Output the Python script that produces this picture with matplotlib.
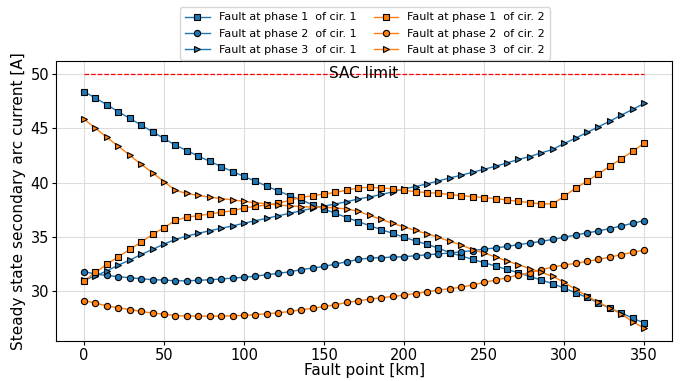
import numpy as np
import matplotlib
matplotlib.use("Agg")
import matplotlib.pyplot as plt

# fault point positions along the line [km]
fault_km = np.linspace(0, 350, 50)

# steady state secondary arc current [A], circuit 1
ph1_cir1 = [48.36, 47.76, 47.15, 46.50, 45.90, 45.27, 44.66, 44.05, 43.43, 42.94,
            42.42, 41.96, 41.47, 41.01, 40.56, 40.12, 39.66, 39.23, 38.80, 38.40,
            37.97, 37.57, 37.17, 36.78, 36.41, 36.04, 35.68, 35.34, 34.97, 34.64,
            34.33, 33.98, 33.56, 33.26, 32.95, 32.64, 32.34, 32.02, 31.72, 31.38,
            31.05, 30.71, 30.31, 29.88, 29.45, 28.96, 28.45, 28.04, 27.55, 27.09]
ph2_cir1 = [31.82, 31.60, 31.47, 31.36, 31.26, 31.17, 31.08, 31.05, 30.98, 30.98,
            31.02, 31.08, 31.14, 31.23, 31.30, 31.41, 31.54, 31.66, 31.81, 32.00,
            32.15, 32.30, 32.52, 32.73, 32.94, 33.07, 33.10, 33.16, 33.19, 33.28,
            33.37, 33.45, 33.53, 33.65, 33.74, 33.90, 33.99, 34.14, 34.30, 34.45,
            34.60, 34.78, 34.97, 35.19, 35.37, 35.56, 35.77, 36.02, 36.26, 36.50]
ph3_cir1 = [31.03, 31.43, 31.89, 32.42, 32.88, 33.40, 33.86, 34.36, 34.78, 35.09,
            35.34, 35.58, 35.80, 36.02, 36.27, 36.50, 36.72, 36.96, 37.18, 37.41,
            37.64, 37.84, 38.04, 38.25, 38.50, 38.68, 38.91, 39.14, 39.42, 39.63,
            39.88, 40.15, 40.43, 40.67, 40.95, 41.22, 41.50, 41.81, 42.12, 42.39,
            42.73, 43.04, 43.59, 44.08, 44.60, 45.12, 45.64, 46.19, 46.72, 47.27]

# circuit 2
ph1_cir2 = [30.98, 31.75, 32.49, 33.19, 33.86, 34.54, 35.24, 35.86, 36.53, 36.83,
            36.96, 37.12, 37.26, 37.42, 37.67, 37.82, 37.95, 38.11, 38.37, 38.63,
            38.80, 38.94, 39.10, 39.30, 39.51, 39.57, 39.51, 39.42, 39.29, 39.17,
            39.08, 39.02, 38.90, 38.80, 38.71, 38.62, 38.53, 38.40, 38.28, 38.16,
            38.04, 38.04, 38.74, 39.48, 40.12, 40.80, 41.50, 42.18, 42.88, 43.59]
ph2_cir2 = [29.17, 28.93, 28.68, 28.50, 28.34, 28.16, 28.01, 27.92, 27.79, 27.74,
            27.74, 27.74, 27.74, 27.77, 27.81, 27.87, 27.95, 28.04, 28.16, 28.32,
            28.44, 28.62, 28.78, 28.99, 29.14, 29.30, 29.42, 29.54, 29.67, 29.81,
            29.97, 30.14, 30.25, 30.40, 30.59, 30.83, 31.05, 31.26, 31.51, 31.72,
            32.00, 32.24, 32.43, 32.58, 32.76, 32.94, 33.16, 33.37, 33.59, 33.81]
ph3_cir2 = [45.82, 45.00, 44.14, 43.34, 42.51, 41.68, 40.89, 40.09, 39.28, 39.00,
            38.82, 38.66, 38.53, 38.41, 38.27, 38.15, 38.04, 37.95, 37.86, 37.79,
            37.76, 37.73, 37.67, 37.58, 37.36, 36.98, 36.62, 36.26, 35.92, 35.60,
            35.30, 34.97, 34.60, 34.27, 33.84, 33.54, 33.17, 32.80, 32.46, 32.10,
            31.76, 31.39, 30.84, 30.20, 29.59, 29.00, 28.49, 27.93, 27.23, 26.62]

sac_limit = 50

series = [
    (ph1_cir1, "s", "tab:blue", "Fault at phase 1  of cir. 1"),
    (ph2_cir1, "o", "tab:blue", "Fault at phase 2  of cir. 1"),
    (ph3_cir1, ">", "tab:blue", "Fault at phase 3  of cir. 1"),
    (ph1_cir2, "s", "tab:orange", "Fault at phase 1  of cir. 2"),
    (ph2_cir2, "o", "tab:orange", "Fault at phase 2  of cir. 2"),
    (ph3_cir2, ">", "tab:orange", "Fault at phase 3  of cir. 2"),
]

fig = plt.figure(figsize=(6.8, 3.81), dpi=100)
ax = fig.add_axes([0.0824, 0.105, 0.906, 0.735])

for vals, mk, col, lab in series:
    ax.plot(fault_km, vals, marker=mk, color=col, markersize=4.5, lw=1,
            markeredgecolor="black", markeredgewidth=0.8, label=lab)

ax.plot([fault_km[0], fault_km[-1]], [sac_limit, sac_limit], "r--", lw=0.9)
ax.text(175, sac_limit, "SAC limit", ha="center", va="center", fontsize=11)

ax.grid(True, color="#dcdcdc", lw=0.8)
ax.set_xlabel("Fault point [km]", fontsize=11, labelpad=0)
ax.set_ylabel("Steady state secondary arc current [A]", fontsize=11, labelpad=3)
ax.tick_params(labelsize=10.5, length=3, pad=2)
ax.set_xticks([0, 50, 100, 150, 200, 250, 300, 350])

fig.legend(loc="upper center", bbox_to_anchor=(0.537, 0.995), ncol=2,
           fontsize=8, handlelength=2.2, columnspacing=1.6,
           labelspacing=0.55, borderpad=0.45)

fig.savefig("out.png", dpi=100)
